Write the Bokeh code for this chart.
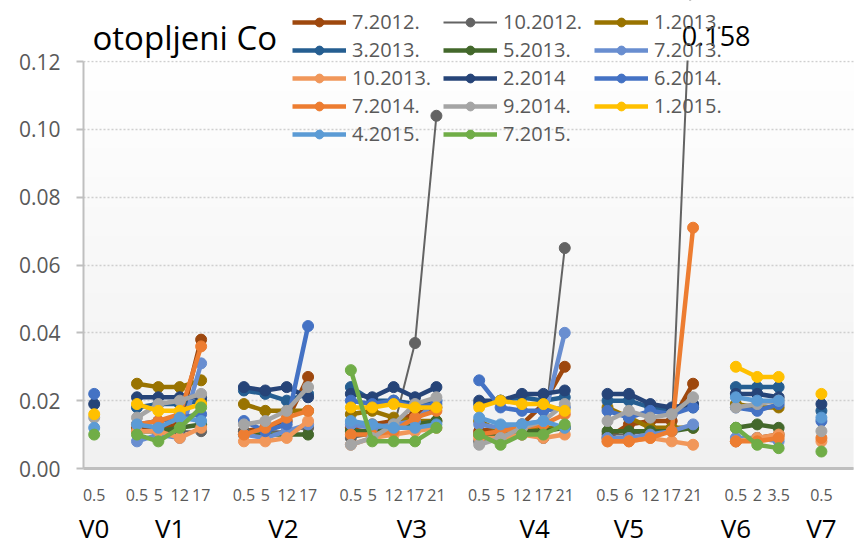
import numpy as np
from bokeh.plotting import figure
from bokeh.models import (Range1d, FixedTicker, Legend, LegendItem, Label,
                          NumeralTickFormatter, AllLabels, BoxAnnotation)
from bokeh.embed import file_html
from bokeh.resources import INLINE

# ---------------- data ----------------
groups = ["V0", "V1", "V2", "V3", "V4", "V5", "V6", "V7"]
sub_labels = [["0.5"],
              ["0.5", "5", "12", "17"],
              ["0.5", "5", "12", "17"],
              ["0.5", "5", "12", "17", "21"],
              ["0.5", "5", "12", "17", "21"],
              ["0.5", "6", "12", "17", "21"],
              ["0.5", "2", "3.5"],
              ["0.5"]]

series_names = ["7.2012.", "10.2012.", "1.2013.", "3.2013.", "5.2013.", "7.2013.",
                "10.2013.", "2.2014", "6.2014.", "7.2014.", "9.2014.", "1.2015.",
                "4.2015.", "7.2015."]
series_colors = ["#9E480E", "#636363", "#997300", "#255E91", "#43682B", "#698ED0",
                 "#F1975A", "#264478", "#4472C4", "#ED7D31", "#A5A5A5", "#FFC000",
                 "#5B9BD5", "#70AD47"]
N = None
# values per group: V0 | V1 | V2 | V3 | V4 | V5 | V6 | V7
s_7_2012 = [N, 0.012, 0.012, 0.013, 0.038, 0.011, 0.012, 0.014, 0.027,
            0.012, 0.013, 0.014, 0.016, 0.018, 0.011, 0.012, 0.013, 0.019, 0.030,
            0.009, 0.013, 0.014, 0.014, 0.025, 0.008, 0.009, 0.010, N]
s_10_2012 = [N, 0.011, 0.011, 0.011, 0.011, 0.011, 0.011, 0.011, 0.012,
             0.009, 0.010, 0.012, 0.037, 0.104, 0.008, 0.009, 0.010, 0.009, 0.065,
             0.010, 0.010, 0.011, 0.012, 0.158, N, N, N, N]
s_1_2013 = [N, 0.025, 0.024, 0.024, 0.026, 0.019, 0.017, 0.017, 0.017,
            0.016, 0.017, 0.015, 0.014, 0.014, 0.014, 0.011, 0.012, 0.012, 0.012,
            0.018, 0.015, 0.012, 0.012, 0.012, 0.019, 0.018, 0.018, N]
s_3_2013 = [N, 0.018, 0.019, 0.019, 0.020, 0.023, 0.022, 0.020, 0.022,
            0.024, 0.020, 0.020, 0.019, 0.020, 0.019, 0.020, 0.021, 0.020, 0.021,
            0.020, 0.020, 0.018, 0.017, 0.018, 0.024, 0.024, 0.024, 0.017]
s_5_2013 = [N, 0.011, 0.011, 0.012, 0.013, 0.010, 0.010, 0.010, 0.010,
            0.011, 0.011, 0.012, 0.013, 0.014, 0.010, 0.010, 0.011, 0.011, 0.012,
            0.011, 0.011, 0.011, 0.011, 0.012, 0.012, 0.013, 0.012, N]
s_7_2013 = [N, 0.008, 0.010, 0.009, 0.031, 0.010, 0.009, 0.011, 0.013,
            0.013, 0.012, 0.013, 0.014, 0.020, 0.013, 0.012, 0.013, 0.014, 0.040,
            0.009, 0.009, 0.010, 0.011, 0.013, 0.009, 0.009, 0.008, N]
s_10_2013 = [N, 0.011, 0.011, 0.009, 0.012, 0.008, 0.008, 0.009, 0.014,
             0.007, 0.009, 0.010, 0.011, 0.012, 0.009, 0.009, 0.010, 0.009, 0.010,
             0.008, 0.008, 0.009, 0.008, 0.007, 0.008, 0.009, 0.010, 0.008]
s_2_2014 = [0.019, 0.021, 0.021, 0.021, 0.021, 0.024, 0.023, 0.024, 0.021,
            0.022, 0.021, 0.024, 0.021, 0.024, 0.020, 0.020, 0.022, 0.022, 0.023,
            0.022, 0.022, 0.019, 0.018, 0.019, 0.022, 0.022, 0.021, 0.019]
s_6_2014 = [0.022, 0.013, 0.014, 0.015, 0.016, 0.014, 0.011, 0.013, 0.042,
            0.020, 0.019, 0.020, 0.018, 0.019, 0.026, 0.018, 0.017, 0.017, 0.018,
            0.017, 0.015, 0.017, 0.016, 0.018, 0.018, 0.017, 0.019, 0.014]
s_7_2014 = [N, 0.013, 0.014, 0.016, 0.036, 0.010, 0.012, 0.015, 0.017,
            0.010, 0.010, 0.011, 0.015, 0.017, 0.010, 0.011, 0.012, 0.013, 0.016,
            0.008, 0.008, 0.009, 0.011, 0.071, 0.008, 0.008, 0.009, 0.009]
s_9_2014 = [0.015, 0.015, 0.019, 0.020, 0.022, 0.013, 0.014, 0.017, 0.024,
            0.007, 0.009, 0.013, 0.019, 0.021, 0.007, 0.009, 0.012, 0.014, 0.019,
            0.014, 0.017, 0.015, 0.016, 0.021, 0.018, 0.019, 0.020, 0.011]
s_1_2015 = [0.016, 0.019, 0.017, 0.017, 0.019, N, N, N, N,
            0.018, 0.018, 0.019, 0.018, 0.018, 0.018, 0.020, 0.019, 0.019, 0.017,
            N, N, N, N, N, 0.030, 0.027, 0.027, 0.022]
s_4_2015 = [0.012, 0.013, 0.012, 0.015, 0.014, N, N, N, N,
            0.014, 0.013, 0.012, 0.012, 0.013, 0.015, 0.013, 0.013, 0.014, 0.012,
            N, N, N, N, N, 0.021, 0.020, 0.020, 0.015]
s_7_2015 = [0.010, 0.010, 0.008, 0.012, 0.018, N, N, N, N,
            0.029, 0.008, 0.008, 0.008, 0.012, 0.010, 0.007, 0.010, 0.010, 0.013,
            N, N, N, N, N, 0.012, 0.007, 0.006, 0.005]
series_values = [s_7_2012, s_10_2012, s_1_2013, s_3_2013, s_5_2013, s_7_2013,
                 s_10_2013, s_2_2014, s_6_2014, s_7_2014, s_9_2014, s_1_2015,
                 s_4_2015, s_7_2015]
y_ticks = [0.0, 0.02, 0.04, 0.06, 0.08, 0.10, 0.12]
annot_value = "0.158"

# ---------------- category layout (one empty slot between groups) ----------------
positions, tick_text = [], {}
slot = 0
for gi, subs in enumerate(sub_labels):
    for s in subs:
        positions.append(slot)
        tick_text[float(slot)] = s
        slot += 1
    slot += 1
n_slots = slot - 1
# group label anchor positions (as placed by the original chart)
group_label_pos = [0.0, 3.55, 8.85, 14.85, 20.6, 25.0, 30.0, 34.0]

# plot area (value axis 0..0.12, categories -0.5..34.5)
px_lo, px_hi = -0.5, n_slots + 0.5
py_lo, py_hi = y_ticks[0], y_ticks[-1]
# the frame fills the whole canvas so that every text around the plot area is drawn
W, H = 857, 545
plot_left_px, plot_right_px = 83, 853
plot_top_px, plot_bottom_px = 61, 468
upp = (py_hi - py_lo) / (plot_bottom_px - plot_top_px)
x_per_px = (px_hi - px_lo) / (plot_right_px - plot_left_px)
x_rng = Range1d(px_lo - plot_left_px * x_per_px, px_lo + (W - plot_left_px) * x_per_px)
y_rng = Range1d(py_lo - (H - plot_bottom_px) * upp, py_hi + plot_top_px * upp)

p = figure(width=W, height=H, output_backend="svg", toolbar_location=None,
           x_range=x_rng, y_range=y_rng,
           min_border_left=0, min_border_right=0, min_border_top=0,
           min_border_bottom=0)
p.outline_line_color = None
p.border_fill_color = "white"
p.background_fill_color = "white"

# subtle vertical gradient for plot area background
rows = 256
t = np.linspace(0, 1, rows)
shade = (241 + 14 * t).astype(np.uint8)
img = np.empty((rows, 1), dtype=np.uint32)
view = img.view(dtype=np.uint8).reshape((rows, 1, 4))
view[:, 0, 0] = shade
view[:, 0, 1] = shade
view[:, 0, 2] = shade
view[:, 0, 3] = 255
p.image_rgba(image=[img], x=px_lo, y=py_lo, dw=px_hi - px_lo, dh=py_hi - py_lo,
             level="image")

# axes
p.yaxis.fixed_location = px_lo
p.yaxis.ticker = FixedTicker(ticks=y_ticks)
p.yaxis.bounds = (py_lo, py_hi)
p.yaxis.formatter = NumeralTickFormatter(format="0.00")
p.yaxis.axis_line_color = "#BFBFBF"
p.yaxis.axis_line_width = 2
p.yaxis.major_tick_line_color = "#BFBFBF"
p.yaxis.major_tick_line_width = 2
p.yaxis.major_tick_out = 7
p.yaxis.major_tick_in = 0
p.yaxis.minor_tick_line_color = None
p.yaxis.major_label_standoff = 16
p.yaxis.major_label_text_font = "Open Sans"
p.yaxis.major_label_text_font_size = "21px"
p.yaxis.major_label_text_color = "#595959"

p.xaxis.fixed_location = py_lo
p.xaxis.bounds = (px_lo, px_hi)
p.xaxis.ticker = FixedTicker(ticks=[float(v) for v in positions])
p.xaxis.major_label_overrides = tick_text
p.xaxis.major_label_policy = AllLabels()
p.xaxis.axis_line_color = "#BFBFBF"
p.xaxis.axis_line_width = 3
p.xaxis.major_tick_line_color = None
p.xaxis.minor_tick_line_color = None
p.xaxis.major_tick_out = 0
p.xaxis.major_tick_in = 0
p.xaxis.major_label_standoff = 20
p.xaxis.major_label_text_font = "Open Sans"
p.xaxis.major_label_text_font_size = "16px"
p.xaxis.major_label_text_color = "#595959"

p.xgrid.visible = False
p.ygrid.ticker = FixedTicker(ticks=y_ticks)
p.ygrid.bounds = (py_lo, py_hi)
p.ygrid.cross_bounds = (px_lo, px_hi)
p.ygrid.grid_line_color = "#CFCFCF"
p.ygrid.grid_line_dash = "2 2"
p.ygrid.grid_line_width = 1.5

# series
items = []
for name, col, vals in zip(series_names, series_colors, series_values):
    ys = np.full(n_slots + 1, np.nan)
    for pos, v in zip(positions, vals):
        if v is not None:
            ys[pos] = v
    xs = np.arange(n_slots + 1, dtype=float)
    lw = 2 if name == "10.2012." else 4.5
    lr = p.line(xs, ys, line_color=col, line_width=lw)
    sr = p.scatter(xs, ys, size=11, fill_color=col, line_color=col, line_width=1)
    items.append(LegendItem(label=name, renderers=[lr, sr]))

# values above the value-axis maximum are cut off at the plot area's top
p.add_layout(BoxAnnotation(bottom=py_hi + upp, left=px_lo, right=px_hi + 1,
                           fill_color="white", fill_alpha=1.0, line_color=None))

legend = Legend(items=items, orientation="horizontal", ncols=3,
                location=(209 + plot_left_px, 398),
                glyph_width=54, glyph_height=22, label_height=22, label_width=90,
                label_standoff=6, spacing=1, padding=0, margin=0,
                background_fill_alpha=0, border_line_color=None,
                label_text_font="Open Sans", label_text_font_size="20px",
                label_text_color="#595959")
p.add_layout(legend, "center")

# group labels under the axis
for g, gx in zip(groups, group_label_pos):
    p.add_layout(Label(x=gx, y=py_lo, y_offset=-59, text=g, text_align="center",
                       text_baseline="middle", text_font="Open Sans",
                       text_font_size="26px", text_color="black"))

# title
p.add_layout(Label(x=px_lo, y=py_hi, x_offset=9, y_offset=24, text="otopljeni Co",
                   text_align="left", text_baseline="middle", text_font="Open Sans",
                   text_font_size="33px", text_color="black"))

# data label for the off-scale point
p.add_layout(Label(x=positions[23], y=py_hi, x_offset=23, y_offset=26, text=annot_value,
                   text_align="center", text_baseline="middle", text_font="Open Sans",
                   text_font_size="27px", text_color="black"))

open("out.html", "w").write(file_html(p, INLINE))
